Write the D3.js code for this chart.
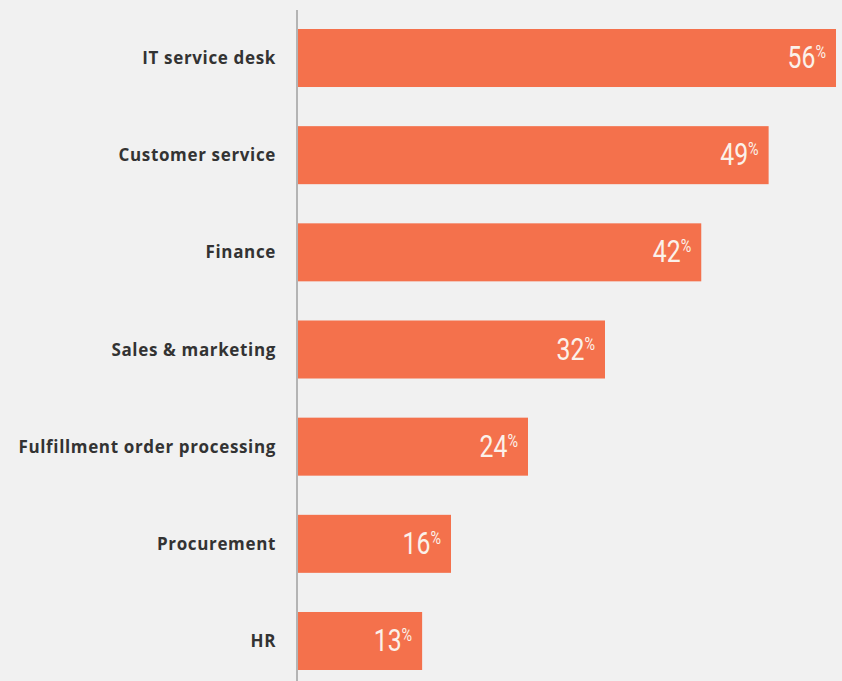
<!DOCTYPE html>
<html>
<head>
<meta charset="utf-8">
<script src="https://cdn.jsdelivr.net/npm/d3@7"></script>
<style>
  html, body { margin: 0; padding: 0; background: #f1f1f1; }
  svg { display: block; }
</style>
</head>
<body>
<svg id="chart" width="842" height="681"></svg>
<script>
const categories = ["IT service desk", "Customer service", "Finance", "Sales & marketing", "Fulfillment order processing", "Procurement", "HR"];
const values = [56, 49, 42, 32, 24, 16, 13];

const W = 842, H = 681;
const svg = d3.select("#chart");
svg.append("rect").attr("width", W).attr("height", H).attr("fill", "#f1f1f1");

const x = d3.scaleLinear().domain([0, d3.max(values)]).range([297, 836]);
const y = d3.scaleBand().domain(categories).range([29, 670]).paddingInner(0.403).paddingOuter(0);

const data = categories.map((c, i) => ({ c, v: values[i] }));

svg.selectAll("rect.bar").data(data).join("rect")
  .attr("class", "bar")
  .attr("x", x(0))
  .attr("y", d => y(d.c))
  .attr("width", d => x(d.v) - x(0))
  .attr("height", y.bandwidth())
  .attr("fill", "#f4714c");

// axis line
svg.append("line")
  .attr("x1", x(0)).attr("x2", x(0))
  .attr("y1", 10).attr("y2", H)
  .attr("stroke", "#b4b4b4").attr("stroke-width", 2);

// category labels
svg.selectAll("text.cat").data(data).join("text")
  .attr("class", "cat")
  .attr("x", x(0) - 21)
  .attr("y", d => y(d.c) + y.bandwidth() / 2 + 6)
  .attr("text-anchor", "end")
  .attr("font-family", "'Open Sans', 'Noto Sans', sans-serif")
  .attr("font-weight", 700)
  .attr("font-size", 17)
  .attr("letter-spacing", 0.65)
  .attr("fill", "#333333")
  .text(d => d.c);

// value labels (condensed)
const vl = svg.selectAll("text.val").data(data).join("text")
  .attr("class", "val")
  .attr("transform", d => `translate(${x(d.v) - 10},${y(d.c) + y.bandwidth() / 2 + 10}) scale(0.8,1)`)
  .attr("text-anchor", "end")
  .attr("font-family", "Roboto, sans-serif")
  .attr("font-weight", 400)
  .attr("fill", "#fbf1ea");
vl.append("tspan").attr("font-size", 31).text(d => d.v);
vl.append("tspan").attr("font-size", 18).attr("dy", -10).text("%");
</script>
</body>
</html>
